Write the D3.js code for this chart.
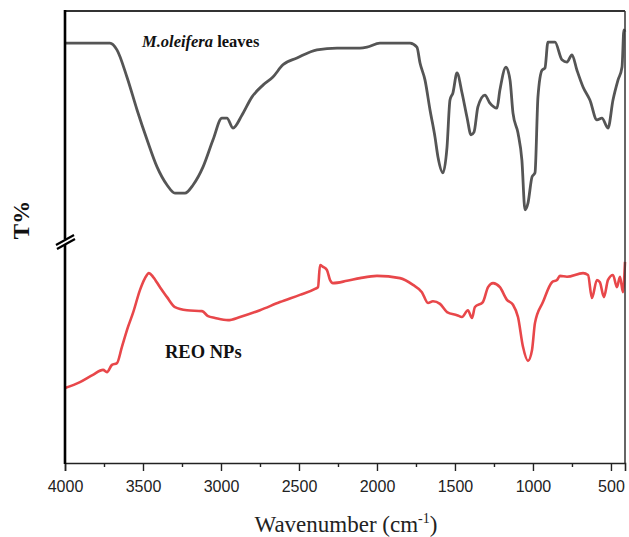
<!DOCTYPE html>
<html>
<head>
<meta charset="utf-8">
<script src="https://cdn.jsdelivr.net/npm/d3@7"></script>
<style>
  body { margin: 0; background: #fff; }
  svg { display: block; }
</style>
</head>
<body>
<div id="graph"></div>
<script>
// data: wavenumber (cm-1) and transmittance (arbitrary %, offset for stacking)
var leafWn = [4000, 3712, 3667, 3603, 3538, 3474, 3410, 3346, 3295, 3231, 3179, 3115, 3051, 2994, 2962, 2923, 2865, 2801, 2731, 2667, 2603, 2513, 2385, 2256, 2109, 2064, 1981, 1788, 1744, 1724, 1692, 1660, 1628, 1609, 1577, 1551, 1532, 1513, 1487, 1455, 1423, 1397, 1378, 1353, 1308, 1276, 1231, 1212, 1173, 1147, 1128, 1096, 1071, 1051, 1032, 1006, 987, 968, 942, 923, 904, 859, 814, 782, 750, 718, 679, 635, 590, 558, 519, 487, 455, 429, 417, 410];
var leafT = [92.9, 92.9, 91.4, 85.4, 78.1, 71.5, 65.5, 61.5, 59.7, 59.7, 61.5, 65.5, 71.5, 76.3, 76.3, 74.1, 77.0, 81.0, 83.6, 85.4, 88.1, 89.6, 91.4, 91.8, 91.8, 92.0, 92.9, 92.9, 92.0, 88.5, 84.7, 78.1, 72.1, 67.7, 64.2, 69.9, 80.3, 81.9, 86.3, 81.9, 76.5, 72.6, 73.2, 78.8, 81.4, 79.6, 78.5, 82.5, 87.6, 84.7, 77.4, 73.0, 67.0, 56.0, 57.5, 63.3, 64.2, 81.0, 86.9, 87.4, 93.1, 93.1, 89.2, 88.7, 90.3, 86.9, 83.2, 80.3, 75.9, 76.3, 74.1, 80.3, 84.7, 87.6, 95.8, 95.4];

var reoWn = [4000, 3904, 3821, 3756, 3731, 3699, 3667, 3635, 3596, 3564, 3519, 3487, 3462, 3436, 3391, 3346, 3295, 3218, 3122, 3083, 3038, 2955, 2878, 2750, 2622, 2494, 2397, 2378, 2365, 2346, 2321, 2301, 2282, 2192, 2109, 2000, 1853, 1769, 1712, 1673, 1641, 1596, 1551, 1487, 1455, 1417, 1391, 1372, 1321, 1288, 1256, 1212, 1167, 1128, 1096, 1064, 1032, 1006, 987, 936, 878, 846, 827, 782, 679, 647, 622, 590, 571, 545, 519, 487, 462, 442, 423, 410];
var reoT = [16.6, 17.9, 19.5, 20.6, 20.1, 21.7, 22.1, 25.7, 30.1, 33.2, 38.3, 40.9, 42.0, 41.2, 38.9, 36.7, 34.5, 33.8, 33.6, 32.5, 32.1, 31.6, 32.3, 33.8, 35.6, 37.2, 38.5, 38.9, 43.8, 43.4, 42.7, 40.5, 39.8, 40.3, 40.9, 41.4, 40.9, 39.4, 37.8, 35.4, 35.8, 35.2, 33.4, 32.7, 32.3, 33.8, 32.1, 34.5, 35.6, 38.9, 39.8, 38.9, 36.1, 35.0, 32.3, 25.7, 22.6, 25.0, 31.0, 35.6, 40.0, 40.5, 41.4, 41.2, 42.0, 41.6, 36.5, 40.5, 40.0, 36.7, 40.5, 41.6, 38.9, 41.2, 37.8, 44.5];

var majorTicks = [4000, 3500, 3000, 2500, 2000, 1500, 1000, 500];
var minorTicks = [3750, 3250, 2750, 2250, 1750, 1250, 750];

var width = 629, height = 537;
var plotLeft = 65, plotRight = 625, plotTop = 11, plotBottom = 463;

var svg = d3.select("#graph")
            .append("svg")
            .attr("width", width).attr("height", height);

var xScale = d3.scaleLinear().domain([4000, 410]).range([plotLeft, plotRight]);
var yScale = d3.scaleLinear().domain([0, 100]).range([plotBottom, plotTop]);

var line = d3.line()
    .x(function(d) { return xScale(d[0]); })
    .y(function(d) { return yScale(d[1]); })
    .curve(d3.curveMonotoneX);

// curves
svg.append("path")
   .datum(d3.zip(leafWn, leafT))
   .attr("d", line)
   .attr("fill", "none")
   .attr("stroke", "#555555")
   .attr("stroke-width", 2.8)
   .attr("stroke-linejoin", "round");

svg.append("path")
   .datum(d3.zip(reoWn, reoT))
   .attr("d", line)
   .attr("fill", "none")
   .attr("stroke", "#e8474a")
   .attr("stroke-width", 2.6)
   .attr("stroke-linejoin", "round");

// frame
svg.append("line").attr("x1", plotLeft).attr("x2", plotRight).attr("y1", plotTop).attr("y2", plotTop)
   .attr("stroke", "#333").attr("stroke-width", 1.8);
svg.append("line").attr("x1", plotRight).attr("x2", plotRight).attr("y1", plotTop).attr("y2", plotBottom)
   .attr("stroke", "#333").attr("stroke-width", 1.5);

// x axis, major and minor ticks
var xAxis = d3.axisBottom(xScale).tickValues(majorTicks).tickSize(8).tickPadding(10)
    .tickFormat(d3.format("d"));
var xMinor = d3.axisBottom(xScale).tickValues(minorTicks).tickSize(4).tickFormat("");

var gx = svg.append("g")
    .attr("transform", "translate(0," + plotBottom + ")")
    .call(xAxis);
gx.select(".domain").attr("stroke", "#222").attr("stroke-width", 1.6);
gx.selectAll(".tick line").attr("stroke", "#222").attr("stroke-width", 1.4);
gx.selectAll(".tick text")
  .attr("font-family", "'Liberation Sans', Arial, sans-serif")
  .attr("font-size", 16)
  .attr("fill", "#222");

var gm = svg.append("g")
    .attr("transform", "translate(0," + plotBottom + ")")
    .call(xMinor);
gm.select(".domain").remove();
gm.selectAll(".tick line").attr("stroke", "#222").attr("stroke-width", 1.4);

// left axis with a break
svg.append("line").attr("x1", plotLeft).attr("x2", plotLeft).attr("y1", plotTop - 1).attr("y2", plotBottom + 1)
   .attr("stroke", "#000").attr("stroke-width", 2.6);
svg.append("rect").attr("x", plotLeft - 3).attr("y", 239).attr("width", 6).attr("height", 6)
   .attr("fill", "#fff");
[[-9, 245, 9, 235], [-8, 249, 10, 239]].forEach(function(s) {
  svg.append("line")
     .attr("x1", plotLeft + s[0]).attr("y1", s[1])
     .attr("x2", plotLeft + s[2]).attr("y2", s[3])
     .attr("stroke", "#000").attr("stroke-width", 2.2);
});

// axis titles
var title = svg.append("text")
    .attr("x", 346).attr("y", 532)
    .attr("text-anchor", "middle")
    .attr("font-family", "'Liberation Serif', 'Times New Roman', serif")
    .attr("font-size", 23)
    .attr("fill", "#222");
title.append("tspan").text("Wavenumber (cm");
title.append("tspan").attr("font-size", 14).attr("dy", -9).text("-1");
title.append("tspan").attr("dy", 9).text(")");

svg.append("text")
   .attr("transform", "translate(29,220) rotate(-90)")
   .attr("text-anchor", "middle")
   .attr("font-family", "'Liberation Serif', 'Times New Roman', serif")
   .attr("font-weight", "bold")
   .attr("font-size", 23)
   .attr("fill", "#111")
   .text("T%");

// curve labels
var lab1 = svg.append("text")
    .attr("x", 142).attr("y", 47)
    .attr("font-family", "'Liberation Serif', 'Times New Roman', serif")
    .attr("font-weight", "bold")
    .attr("font-size", 16.5)
    .attr("fill", "#111");
lab1.append("tspan").attr("font-style", "italic").text("M.oleifera");
lab1.append("tspan").text(" leaves");

svg.append("text")
   .attr("x", 165).attr("y", 358)
   .attr("font-family", "'Liberation Serif', 'Times New Roman', serif")
   .attr("font-weight", "bold")
   .attr("font-size", 18.5)
   .attr("fill", "#111")
   .text("REO NPs");
</script>
</body>
</html>
